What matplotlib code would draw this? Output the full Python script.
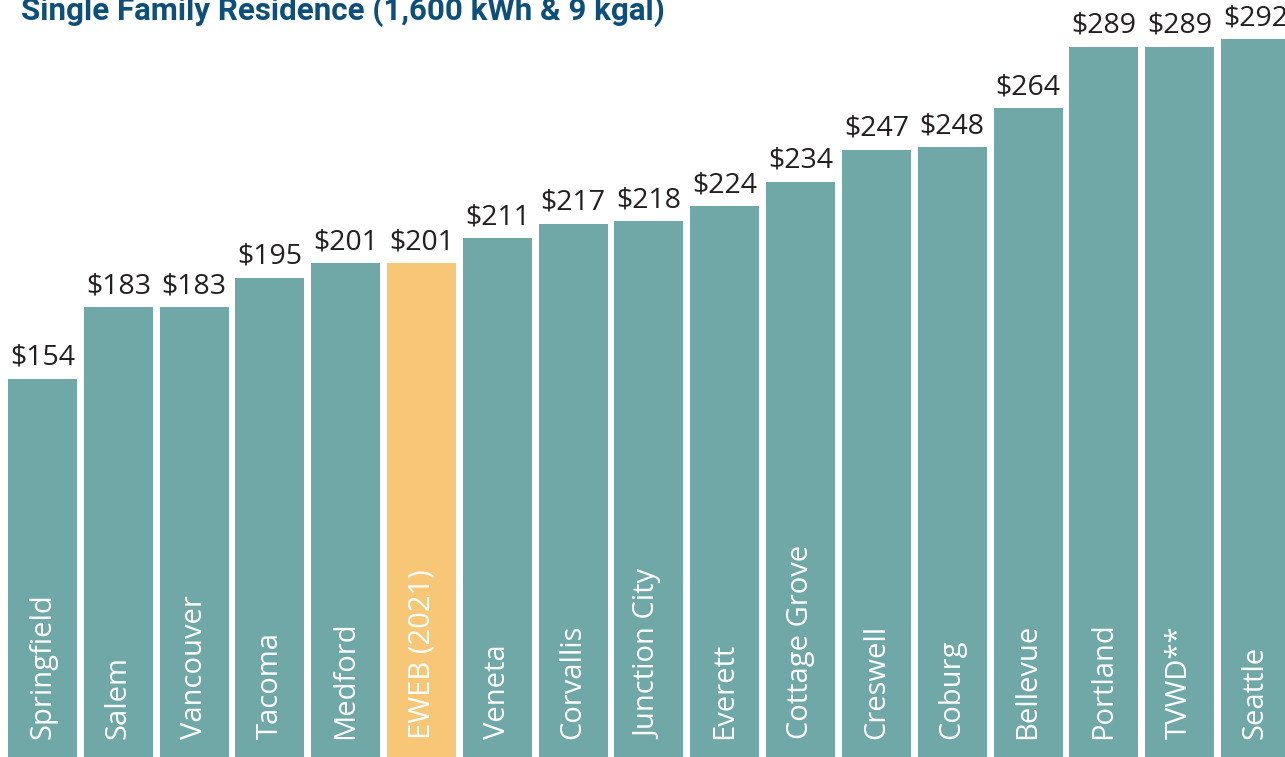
import numpy as np
import matplotlib.pyplot as plt

# monthly bill, single family residence
cities = ['Springfield', 'Salem', 'Vancouver', 'Tacoma', 'Medford', 'EWEB (2021)',
          'Veneta', 'Corvallis', 'Junction City', 'Everett', 'Cottage Grove',
          'Creswell', 'Coburg', 'Bellevue', 'Portland', 'TVWD**', 'Seattle']
bills = [154, 183, 183, 195, 201, 201, 211, 217, 218, 224, 234,
         247, 248, 264, 289, 289, 292]
highlight = 'EWEB (2021)'

teal = '#6fa8a7'
orange = '#f7c676'

fig = plt.figure(figsize=(12.85, 7.57), dpi=100)
ax = fig.add_axes([0, 0, 1, 1])

x = np.arange(len(cities))
colors = [orange if c == highlight else teal for c in cities]
bars = ax.bar(x, bills, width=0.91, color=colors)

for xi, v, name in zip(x, bills, cities):
    ax.annotate('$%d' % v, (xi, v), xytext=(0, 5), textcoords='offset points',
                ha='center', va='bottom', fontsize=20.5, color='#231f20',
                family='Open Sans')
    ax.annotate(name, (xi, 0), xytext=(0, 13), textcoords='offset points',
                ha='center', va='bottom', rotation=90, fontsize=21,
                color='white', family='Open Sans')

ax.set_xlim(-0.561, 16.39)
ax.set_ylim(0, 308)
ax.axis('off')

fig.text(21 / 1285, 1 - 20 / 757, 'Single Family Residence (1,600 kWh & 9 kgal)',
         ha='left', va='baseline', fontsize=22.5, fontweight='bold',
         color='#0d4f78', family=['Liberation Sans Narrow', 'Roboto', 'DejaVu Sans'])

fig.savefig('out.png', dpi=100)
